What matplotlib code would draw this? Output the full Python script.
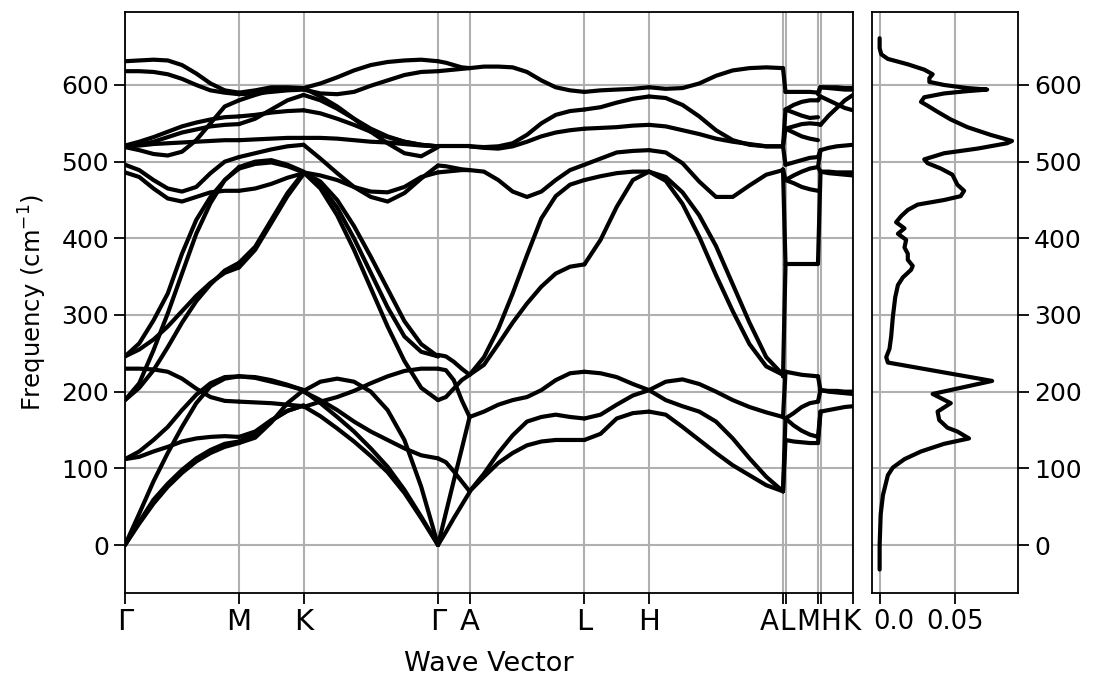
import numpy as np
import matplotlib
matplotlib.use("Agg")
import matplotlib.pyplot as plt
from matplotlib.transforms import ScaledTranslation

plt.rcParams.update({
    "font.family": "DejaVu Sans",
    "font.size": 17.5,
})

###############################################
# DATA
###############################################

q_labels = ["Γ", "M", "K", "Γ", "A", "L", "H", "A", "L", "M", "H", "K"]
q_pos = [0, 114, 178.6, 313, 344.6, 459.4, 524, 658, 660.5, 693, 695.5, 728]

# each segment: frequencies (cm-1) sampled evenly from start point to end point
seg_GM = [
    [631, 632, 633, 632, 626, 615, 602, 593, 590],
    [618, 618, 617, 614, 608, 600, 593, 590, 588],
    [519, 515, 510, 508, 513, 528, 550, 572, 580],
    [521, 526, 532, 539, 546, 551, 555, 558, 559],
    [520, 522, 526, 532, 538, 542, 546, 548, 549],
    [520, 521, 523, 524, 525, 526, 527, 528, 528],
    [496, 489, 476, 465, 461, 467, 485, 500, 506],
    [486, 480, 465, 452, 448, 454, 460, 462, 462],
    [246, 263, 293, 328, 380, 424, 454, 476, 491],
    [189, 211, 254, 302, 354, 406, 446, 476, 493],
    [189, 205, 228, 258, 290, 318, 340, 358, 368],
    [246, 255, 268, 285, 305, 325, 342, 355, 362],
    [230, 230, 229, 226, 217, 204, 193, 188, 187],
    [112, 115, 122, 128, 135, 139, 141, 142, 141],
    [112, 122, 137, 154, 176, 196, 211, 219, 220],
    [0, 41, 83, 120, 154, 185, 207, 217, 220],
    [0, 28, 54, 76, 94, 109, 120, 128, 133],
    [0, 30, 59, 80, 98, 113, 124, 132, 135],
]
seg_MK = [
    [590, 593, 597, 597, 596],
    [588, 589, 591, 593, 594],
    [580, 587, 593, 595, 595],
    [559, 561, 564, 566, 567],
    [549, 556, 568, 580, 587],
    [528, 529, 530, 531, 531],
    [506, 511, 516, 520, 522],
    [462, 465, 471, 479, 485],
    [491, 497, 499, 494, 486],
    [493, 500, 502, 496, 487],
    [368, 389, 424, 459, 486],
    [362, 385, 420, 455, 484],
    [187, 186, 185, 183, 181],
    [220, 219, 215, 209, 202],
    [220, 218, 213, 208, 202],
    [141, 148, 163, 175, 182],
    [133, 140, 160, 185, 202],
    [135, 145, 162, 175, 182],
]
seg_KG = [
    [596, 602, 610, 619, 626, 630, 632, 633, 631],
    [594, 589, 588, 591, 599, 606, 613, 617, 618],
    [596, 585, 572, 556, 539, 524, 511, 507, 519],
    [567, 563, 556, 548, 539, 532, 526, 522, 520],
    [587, 580, 569, 556, 543, 533, 526, 522, 520],
    [531, 531, 530, 528, 526, 525, 523, 521, 520],
    [522, 504, 485, 467, 454, 448, 459, 478, 495],
    [486, 482, 476, 467, 461, 460, 467, 480, 486],
    [486, 474, 450, 416, 376, 334, 292, 262, 246],
    [486, 470, 440, 400, 355, 310, 272, 252, 246],
    [486, 465, 430, 385, 335, 285, 240, 205, 189],
    [201, 213, 217, 213, 200, 176, 137, 76, 0],
    [201, 185, 167, 148, 126, 102, 72, 37, 0],
    [181, 168, 152, 135, 116, 95, 68, 35, 0],
    [180, 187, 193, 201, 211, 220, 227, 230, 230],
    [200, 189, 176, 161, 148, 137, 126, 117, 113],
]
seg_GA = [
    [631, 629, 626, 623, 622],
    [618, 619, 620, 621, 622],
    [520, 520, 520, 520, 520],
    [495, 494, 492, 490, 489],
    [486, 487, 488, 489, 489],
    [248, 246, 239, 230, 222],
    [230, 228, 215, 189, 167],
    [189, 193, 204, 215, 222],
    [113, 108, 96, 83, 70],
    [0, 42, 84, 125, 167],
    [0, 17, 35, 52, 69],
]
seg_AL = [
    [622, 624, 624, 623, 617, 606, 597, 593, 591],
    [520, 519, 520, 524, 535, 550, 561, 566, 568],
    [520, 518, 517, 520, 526, 533, 538, 541, 543],
    [489, 487, 476, 461, 454, 461, 476, 489, 496],
    [222, 245, 282, 328, 378, 426, 455, 470, 476],
    [222, 235, 262, 290, 315, 337, 354, 363, 366],
    [167, 174, 183, 189, 193, 202, 215, 224, 226],
    [70, 93, 120, 143, 161, 167, 170, 167, 165],
    [70, 89, 107, 120, 130, 135, 137, 137, 137],
]
seg_LH = [
    [591, 593, 594, 595, 597],
    [568, 571, 577, 582, 585],
    [543, 544, 545, 547, 548],
    [496, 504, 512, 514, 515],
    [476, 481, 485, 487, 487],
    [366, 398, 441, 476, 487],
    [226, 224, 219, 210, 202],
    [165, 170, 183, 195, 202],
    [137, 145, 165, 172, 174],
]
seg_HA = [
    [597, 595, 596, 602, 612, 619, 622, 623, 622],
    [585, 583, 574, 559, 541, 528, 522, 520, 520],
    [548, 546, 541, 536, 530, 526, 523, 520, 520],
    [515, 512, 498, 474, 454, 454, 469, 483, 489],
    [487, 475, 445, 402, 352, 305, 262, 233, 222],
    [487, 480, 460, 430, 390, 340, 290, 245, 222],
    [202, 213, 216, 210, 200, 189, 180, 173, 167],
    [202, 189, 181, 174, 161, 139, 113, 89, 70],
    [174, 170, 154, 137, 120, 104, 91, 78, 70],
]
seg_LM = [
    [591, 591, 591, 591, 590],
    [568, 574, 578, 580, 580],
    [568, 564, 560, 557, 558],
    [543, 546, 549, 550, 549],
    [543, 538, 533, 530, 528],
    [496, 499, 502, 505, 506],
    [476, 482, 487, 491, 493],
    [476, 472, 467, 464, 462],
    [366, 366, 366, 366, 366],
    [226, 224, 222, 221, 220],
    [165, 172, 180, 185, 187],
    [165, 156, 149, 144, 141],
    [137, 135, 134, 133, 133],
]
seg_HK = [
    [597, 597, 597, 596, 596],
    [597, 596, 595, 594, 594],
    [585, 580, 575, 570, 567],
    [548, 560, 570, 580, 587],
    [515, 518, 520, 521, 522],
    [487, 487, 486, 486, 486],
    [487, 485, 484, 483, 482],
    [202, 201, 201, 200, 200],
    [202, 200, 199, 198, 197],
    [174, 176, 178, 180, 181],
]

# band ends joined across the A|L and M|H breaks
jump_AL = [(622, 591), (520, 568), (520, 543), (520, 496), (490, 476), (490, 366),
           (220, 366), (220, 226), (167, 226), (167, 165), (70, 165), (70, 137)]
jump_MH = [(590, 597), (588, 597), (580, 585), (549, 548), (506, 515), (493, 515),
           (493, 487), (368, 487), (220, 202), (187, 202), (141, 174), (133, 174)]

# phonon density of states
dos_freq = [-32, 0, 40, 65, 91, 101, 112, 122, 132, 139, 148, 153, 163, 174, 185, 197,
            214, 238, 245, 256, 272, 297, 323, 339, 349, 359, 364, 372, 380, 388, 398,
            406, 413, 421, 429, 437, 444, 450, 455, 462, 470, 483, 491, 498, 503, 511,
            517, 524, 527, 535, 545, 555, 565, 573, 578, 584, 589, 592, 594, 596, 600,
            604, 609, 614, 620, 627, 634, 640, 648, 661]
dos_val = [0.0, 0.0, 0.0007, 0.0022, 0.0055, 0.0088, 0.0166, 0.0276, 0.0431, 0.0597,
           0.0519, 0.0453, 0.0398, 0.0387, 0.0475, 0.0354, 0.0751, 0.0055, 0.0044,
           0.0066, 0.0077, 0.0088, 0.0104, 0.0122, 0.0155, 0.0210, 0.0221, 0.0188,
           0.0188, 0.0166, 0.0177, 0.0122, 0.0166, 0.0110, 0.0144, 0.0188, 0.0254,
           0.0431, 0.0541, 0.0564, 0.0519, 0.0486, 0.0409, 0.0320, 0.0298, 0.0431,
           0.0652, 0.0851, 0.0884, 0.0740, 0.0586, 0.0475, 0.0387, 0.0320, 0.0276,
           0.0298, 0.0431, 0.0586, 0.0718, 0.0586, 0.0431, 0.0332, 0.0332, 0.0354,
           0.0298, 0.0188, 0.0055, 0.0011, 0.0, 0.0]

###############################################
# FIGURE
###############################################

W, H = 1094, 678
fig = plt.figure(figsize=(W / 100, H / 100), dpi=100)
ax = fig.add_axes([125 / W, 1 - 593 / H, 728 / W, 581 / H])
ax2 = fig.add_axes([872 / W, 1 - 593 / H, 146 / W, 581 / H], sharey=ax)

style = dict(color="k", lw=3.0, solid_joinstyle="round", solid_capstyle="round")
segments = [(0, 1, seg_GM), (1, 2, seg_MK), (2, 3, seg_KG), (3, 4, seg_GA),
            (4, 5, seg_AL), (5, 6, seg_LH), (6, 7, seg_HA), (8, 9, seg_LM),
            (10, 11, seg_HK)]

for i0, i1, curves in segments:
    for c in curves:
        x = np.linspace(q_pos[i0], q_pos[i1], len(c))
        ax.plot(x, c, **style)

for fa, fb in jump_AL:
    ax.plot([q_pos[7], q_pos[8]], [fa, fb], **style)
for fa, fb in jump_MH:
    ax.plot([q_pos[9], q_pos[10]], [fa, fb], **style)

ax.set_xlim(q_pos[0], q_pos[-1])
ax.set_ylim(-62.6, 695.2)
ax.set_xticks(q_pos)
ax.set_xticklabels(q_labels)
ax.set_yticks([0, 100, 200, 300, 400, 500, 600])
ax.tick_params(length=8, width=1.3, labelsize=18)
ax.tick_params(axis="x", labelsize=21, pad=3)

# the crowded labels at the end of the path sit side by side
shift_px = [0] * 7 + [-14, 1.5, -10, 10.5, -2]
for i, (t, dx) in enumerate(zip(ax.get_xticklabels(), shift_px)):
    if i >= 7:
        t.set_fontsize(20)
    t.set_transform(t.get_transform() + ScaledTranslation(dx / 100, 0, fig.dpi_scale_trans))

ax.grid(True, color="#b0b0b0", lw=1.5)
ax.set_axisbelow(True)
ax.set_xlabel("Wave Vector", fontsize=19.5)
ax.set_ylabel("Frequency (cm$^{-1}$)")
ax.xaxis.set_label_coords(0.5, -0.10)
ax.yaxis.set_label_coords(-0.104, 0.5)

ax2.plot(dos_val, dos_freq, **style)
ax2.set_xlim(-0.0051, 0.0924)
ax2.set_xticks([0.0, 0.05])
ax2.set_xticklabels(["0.0", "0.05"])
ax2.tick_params(length=8, width=1.3, labelsize=18.5)
ax2.tick_params(axis="y", left=False, labelleft=False, right=True, labelright=True,
                labelsize=18)
lab0 = ax2.get_xticklabels()[0]
lab0.set_ha("left")
lab0.set_transform(lab0.get_transform() + ScaledTranslation(-6 / 100, 0, fig.dpi_scale_trans))
ax2.grid(True, color="#b0b0b0", lw=1.5)
ax2.set_axisbelow(True)

for a in (ax, ax2):
    for s in a.spines.values():
        s.set_linewidth(1.3)

fig.savefig("out.png", dpi=100)
